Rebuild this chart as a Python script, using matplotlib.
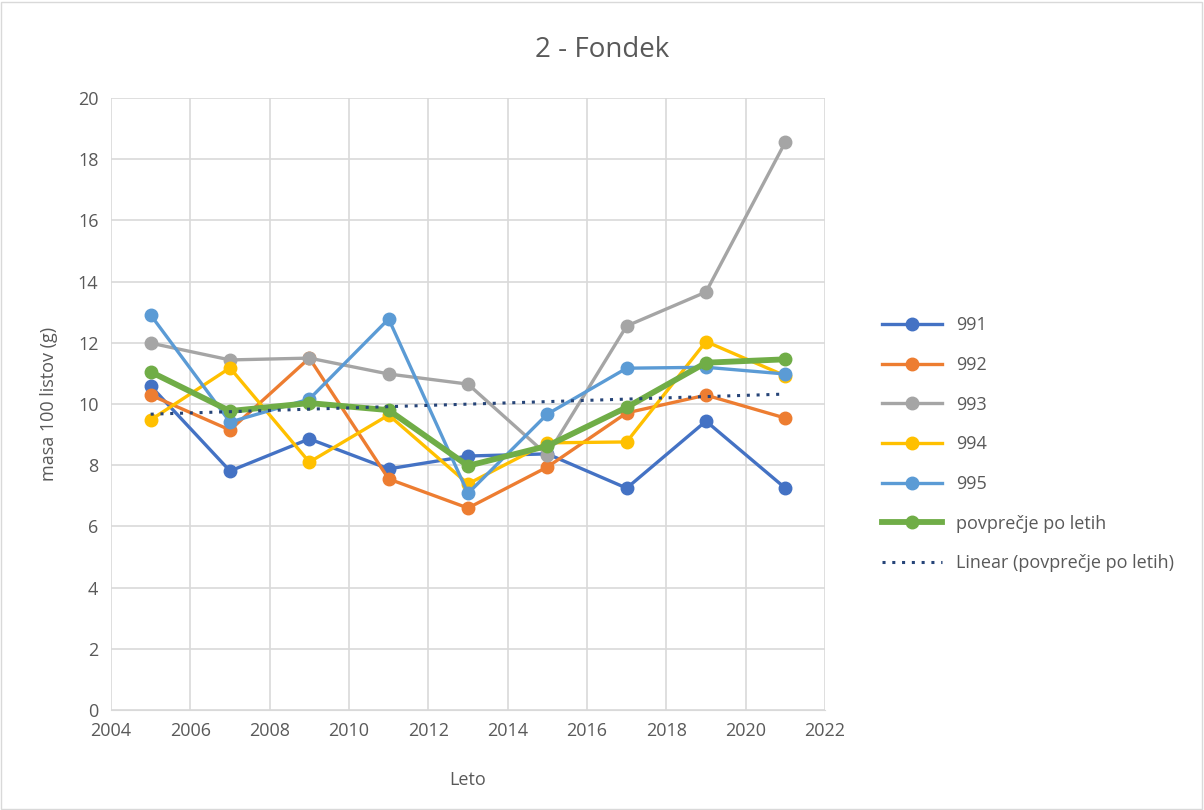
import numpy as np
import matplotlib.pyplot as plt

plt.rcParams["font.family"] = ["Open Sans", "DejaVu Sans"]

years = [2005, 2007, 2009, 2011, 2013, 2015, 2017, 2019, 2021]
s991 = [10.59, 7.81, 8.86, 7.88, 8.30, 8.37, 7.25, 9.44, 7.25]
s992 = [10.29, 9.15, 11.50, 7.55, 6.60, 7.94, 9.71, 10.29, 9.54]
s993 = [11.99, 11.44, 11.50, 10.98, 10.65, 8.33, 12.55, 13.66, 18.56]
s994 = [9.48, 11.18, 8.10, 9.64, 7.39, 8.73, 8.76, 12.04, 10.92]
s995 = [12.91, 9.41, 10.16, 12.78, 7.08, 9.67, 11.17, 11.20, 10.98]
avg = [11.05, 9.77, 10.03, 9.80, 7.98, 8.63, 9.89, 11.35, 11.46]

series = [("991", s991, "#4472C4"), ("992", s992, "#ED7D31"),
          ("993", s993, "#A5A5A5"), ("994", s994, "#FFC000"),
          ("995", s995, "#5B9BD5")]

txt = "#595959"
fig = plt.figure(figsize=(12.04, 8.10), dpi=100)
ax = fig.add_axes([111 / 1204, 1 - 710 / 810, (825 - 111) / 1204, (710 - 98) / 810])

for name, vals, col in series:
    ax.plot(years, vals, color=col, linewidth=2.4, marker="o", markersize=9,
            label=name, zorder=3)
ax.plot(years, avg, color="#70AD47", linewidth=4.2, marker="o", markersize=9,
        label="povprečje po letih", zorder=4)

# linear trend of the average
k, n = np.polyfit(years, avg, 1)
yr = np.array([years[0], years[-1]])
ax.plot(yr, k * yr + n, color="#264478", linewidth=2.2, linestyle=(0, (1, 2.2)),
        label="Linear (povprečje po letih)", zorder=5)

ax.set_xlim(2004, 2022)
ax.set_ylim(0, 20)
ax.set_xticks(range(2004, 2023, 2))
ax.set_yticks(range(0, 21, 2))
ax.grid(True, color="#D9D9D9", linewidth=1.2)
ax.set_axisbelow(True)
for s in ["top", "right", "left"]:
    ax.spines[s].set_visible(False)
ax.spines["bottom"].set_color("#D9D9D9")
ax.tick_params(length=0, labelsize=13, colors=txt, pad=9)

ax.set_xlabel("Leto", fontsize=13, color=txt, labelpad=22)
ax.set_ylabel("masa 100 listov (g)", fontsize=13, color=txt, labelpad=14)
fig.text(0.5, 1 - 50 / 810, "2 - Fondek", ha="center", va="center",
         fontsize=20, color=txt)

ax.legend(loc="upper left", bbox_to_anchor=(1.07, 0.655), frameon=False,
          fontsize=13, labelcolor=txt, handlelength=3.3, labelspacing=1.2,
          borderaxespad=0)

fig.patches.append(plt.Rectangle((1 / 1204, 1 / 810), 1 - 3 / 1204, 1 - 3 / 810,
                                 transform=fig.transFigure, fill=False,
                                 edgecolor="#D9D9D9", linewidth=1))

fig.savefig("out.png", dpi=100)
